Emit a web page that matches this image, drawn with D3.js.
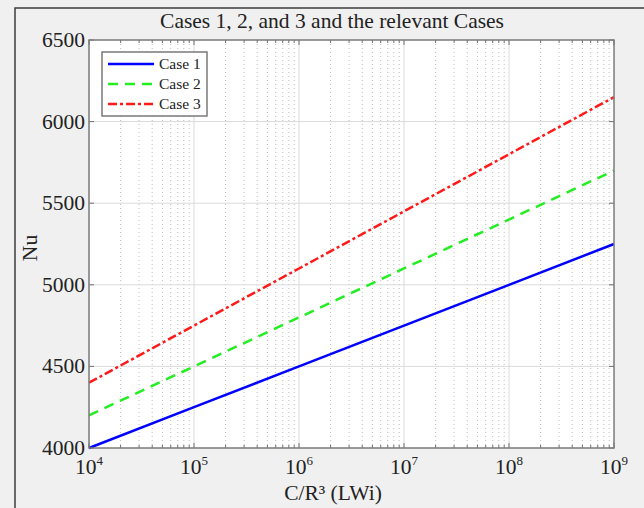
<!DOCTYPE html>
<html>
<head>
<meta charset="utf-8">
<script src="https://cdn.jsdelivr.net/npm/d3@7"></script>
<style>
  body { margin: 0; background: #f0f0f0; }
  svg { display: block; font-family: "Liberation Serif", "Times New Roman", serif; }
</style>
</head>
<body>
<div id="chart"></div>
<script>
const width = 644;
const height = 508;

const xValues = [1e4, 1e5, 1e6, 1e7, 1e8, 1e9];
const case1 = [4000, 4250, 4500, 4750, 5000, 5250];
const case2 = [4200, 4500, 4800, 5100, 5400, 5700];
const case3 = [4400, 4750, 5100, 5450, 5800, 6150];
const seriesNames = ['Case 1', 'Case 2', 'Case 3'];
const yTicks = [4000, 4500, 5000, 5500, 6000, 6500];
const xExponents = [4, 5, 6, 7, 8, 9];

const series = [
  { name: seriesNames[0], values: case1, color: '#0000ff', dash: null },
  { name: seriesNames[1], values: case2, color: '#22ee22', dash: '10,7' },
  { name: seriesNames[2], values: case3, color: '#ff1a1a', dash: '9,3,3,3' }
];

const margin = { left: 89, right: 30, top: 40, bottom: 60 };

const svg = d3.select('#chart').append('svg')
  .attr('width', width)
  .attr('height', height);

// figure frame
svg.append('rect')
  .attr('x', 0).attr('y', 0).attr('width', width).attr('height', height)
  .style('fill', '#f0f0f0');
svg.append('path')
  .attr('d', `M15,${height} V8 H${width}`)
  .style('fill', 'none')
  .style('stroke', '#3c3c3c')
  .style('stroke-width', 1.5);

const x = d3.scaleLog()
  .domain([1e4, 1e9])
  .range([margin.left, width - margin.right]);
const y = d3.scaleLinear()
  .domain([4000, 6500])
  .range([height - margin.bottom, margin.top]);

const x0 = x.range()[0], x1 = x.range()[1];
const y0 = y.range()[0], y1 = y.range()[1];

svg.append('rect')
  .attr('x', x0).attr('y', y1)
  .attr('width', x1 - x0).attr('height', y0 - y1)
  .style('fill', '#ffffff');

// minor ticks: 2..9 in every decade
const minorTicks = [];
xExponents.slice(0, -1).forEach(e => {
  for (let m = 2; m <= 9; m++) minorTicks.push(m * Math.pow(10, e));
});

// grid
svg.append('g').selectAll('line')
  .data(minorTicks).join('line')
  .attr('x1', d => x(d)).attr('x2', d => x(d))
  .attr('y1', y1).attr('y2', y0)
  .style('stroke', '#bdbdbd')
  .style('stroke-width', 1)
  .style('stroke-dasharray', '1,3');

svg.append('g').selectAll('line')
  .data(xValues.slice(1, -1)).join('line')
  .attr('x1', d => x(d)).attr('x2', d => x(d))
  .attr('y1', y1).attr('y2', y0)
  .style('stroke', '#dadada')
  .style('stroke-width', 1);

svg.append('g').selectAll('line')
  .data(yTicks.slice(1, -1)).join('line')
  .attr('x1', x0).attr('x2', x1)
  .attr('y1', d => y(d)).attr('y2', d => y(d))
  .style('stroke', '#dadada')
  .style('stroke-width', 1);

// ticks (inward) on all four sides
const tickColor = '#707070';
const tk = svg.append('g').style('stroke', tickColor).style('stroke-width', 1);
xValues.forEach(d => {
  tk.append('line').attr('x1', x(d)).attr('x2', x(d)).attr('y1', y0).attr('y2', y0 - 5);
  tk.append('line').attr('x1', x(d)).attr('x2', x(d)).attr('y1', y1).attr('y2', y1 + 5);
});
minorTicks.forEach(d => {
  tk.append('line').attr('x1', x(d)).attr('x2', x(d)).attr('y1', y0).attr('y2', y0 - 3);
  tk.append('line').attr('x1', x(d)).attr('x2', x(d)).attr('y1', y1).attr('y2', y1 + 3);
});
yTicks.forEach(d => {
  tk.append('line').attr('x1', x0).attr('x2', x0 + 5).attr('y1', y(d)).attr('y2', y(d));
  tk.append('line').attr('x1', x1).attr('x2', x1 - 5).attr('y1', y(d)).attr('y2', y(d));
});

// series lines
const line = d3.line()
  .x((d, i) => x(xValues[i]))
  .y(d => y(d));

series.forEach(s => {
  svg.append('path')
    .datum(s.values)
    .attr('d', line)
    .style('fill', 'none')
    .style('stroke', s.color)
    .style('stroke-width', 2.5)
    .style('stroke-dasharray', s.dash);
});

// axes box
svg.append('rect')
  .attr('x', x0).attr('y', y1)
  .attr('width', x1 - x0).attr('height', y0 - y1)
  .style('fill', 'none')
  .style('stroke', '#7a7a7a')
  .style('stroke-width', 1.5);

// y tick labels
svg.append('g').selectAll('text')
  .data(yTicks).join('text')
  .attr('x', x0 - 4)
  .attr('y', d => y(d) + 7)
  .attr('text-anchor', 'end')
  .style('font-size', '21.5px')
  .style('fill', '#222')
  .text(d => d);

// x tick labels 10^n
const xl = svg.append('g').selectAll('text')
  .data(xExponents).join('text')
  .attr('x', d => x(Math.pow(10, d)))
  .attr('y', y0 + 26)
  .attr('text-anchor', 'middle')
  .style('font-size', '21.5px')
  .style('fill', '#222');
xl.append('tspan').text('10');
xl.append('tspan')
  .attr('dy', -9)
  .style('font-size', '13px')
  .text(d => d);

// title and axis labels
svg.append('text')
  .attr('x', 332)
  .attr('y', 28)
  .attr('text-anchor', 'middle')
  .style('font-size', '21.5px')
  .style('fill', '#222')
  .text('Cases 1, 2, and 3 and the relevant Cases');

svg.append('text')
  .attr('x', 333)
  .attr('y', 500)
  .attr('text-anchor', 'middle')
  .style('font-size', '21.5px')
  .style('fill', '#222')
  .text('C/R\u00b3 (LWi)');

svg.append('text')
  .attr('transform', `translate(37, 248) rotate(-90)`)
  .attr('text-anchor', 'middle')
  .style('font-size', '21.5px')
  .style('fill', '#222')
  .text('Nu');

// legend
const lg = svg.append('g').attr('transform', 'translate(102, 52)');
lg.append('rect')
  .attr('width', 105).attr('height', 64)
  .style('fill', '#ffffff')
  .style('stroke', '#7a7a7a')
  .style('stroke-width', 1.5);
series.forEach((s, i) => {
  const ry = 12 + i * 20;
  lg.append('line')
    .attr('x1', 6).attr('x2', 52)
    .attr('y1', ry).attr('y2', ry)
    .style('stroke', s.color)
    .style('stroke-width', 2.5)
    .style('stroke-dasharray', s.dash);
  lg.append('text')
    .attr('x', 57).attr('y', ry + 5)
    .style('font-size', '15.5px')
    .style('fill', '#222')
    .text(s.name);
});
</script>
</body>
</html>
